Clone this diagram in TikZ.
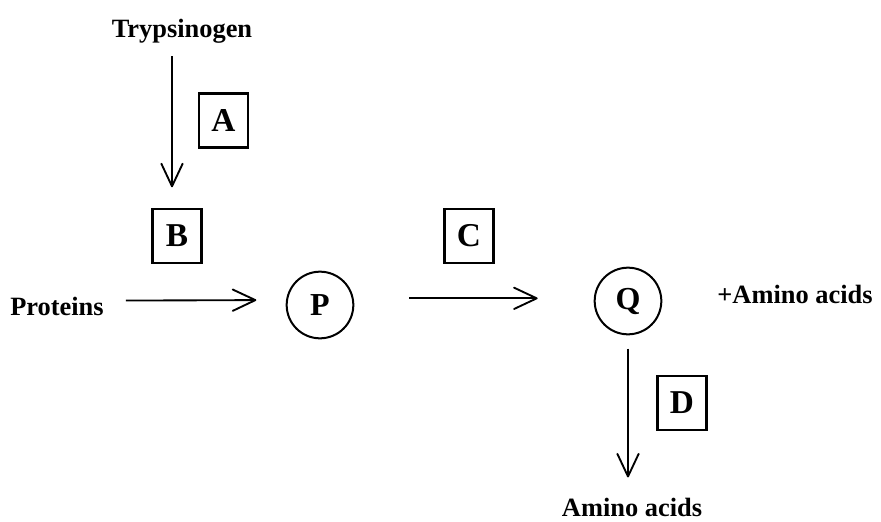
\documentclass[tikz,border=0pt]{standalone}
\usepackage{fontspec}
\setmainfont{Liberation Serif}
\usetikzlibrary{arrows.meta}
\begin{document}
\begin{tikzpicture}[x=0.75pt,y=-0.75pt,
  lbl/.style={inner sep=0pt,anchor=base,font=\fontsize{19.8}{24}\selectfont\bfseries},
  boxlbl/.style={draw,line width=1.6pt,minimum width=36.75pt,minimum height=40.5pt,inner sep=0pt,font=\fontsize{25}{29}\selectfont\bfseries},
  circ/.style={draw,circle,line width=1.5pt,minimum size=50pt,inner sep=0pt,font=\fontsize{24}{28}\selectfont\bfseries},
  arr/.style={line width=1.4pt,-{Straight Barb[length=17pt,width=16pt,line join=round,line cap=round]}}]
\useasboundingbox (0,0) rectangle (881,521);
% text labels
\node[lbl] (tryp) at (182,37) {Trypsinogen};
\node[lbl] (prot) at (57,315) {Proteins};
\node[lbl] (plus) at (795,303) {+Amino acids};
\node[lbl] (amino) at (632,516) {Amino acids};
% boxes
\node[boxlbl] (A) at (223.5,120.5) {A};
\node[boxlbl] (B) at (177,236) {B};
\node[boxlbl] (C) at (469,236) {C};
\node[boxlbl] (D) at (682,403) {D};
% circles
\node[circ] (P) at (320,305) {P};
\node[circ] (Q) at (628,301) {Q};
% arrows
\coordinate (ax) at (172,188);
\draw[arr,shorten <=10pt,shorten >=15.5pt] (ax |- tryp.south) -- (ax |- B.north);
\draw[arr,shorten <=16.5pt,shorten >=22pt] ([yshift=4pt]prot.east) -- ([yshift=3.75pt]P.west);
\draw[arr,shorten <=41pt,shorten >=42pt] ([yshift=2pt]P.east |- Q.center) -- ([yshift=2pt]Q.west);
\draw[arr,shorten <=10pt,shorten >=15pt] (Q.south) -- (Q.south |- amino.north);
\end{tikzpicture}
\end{document}
